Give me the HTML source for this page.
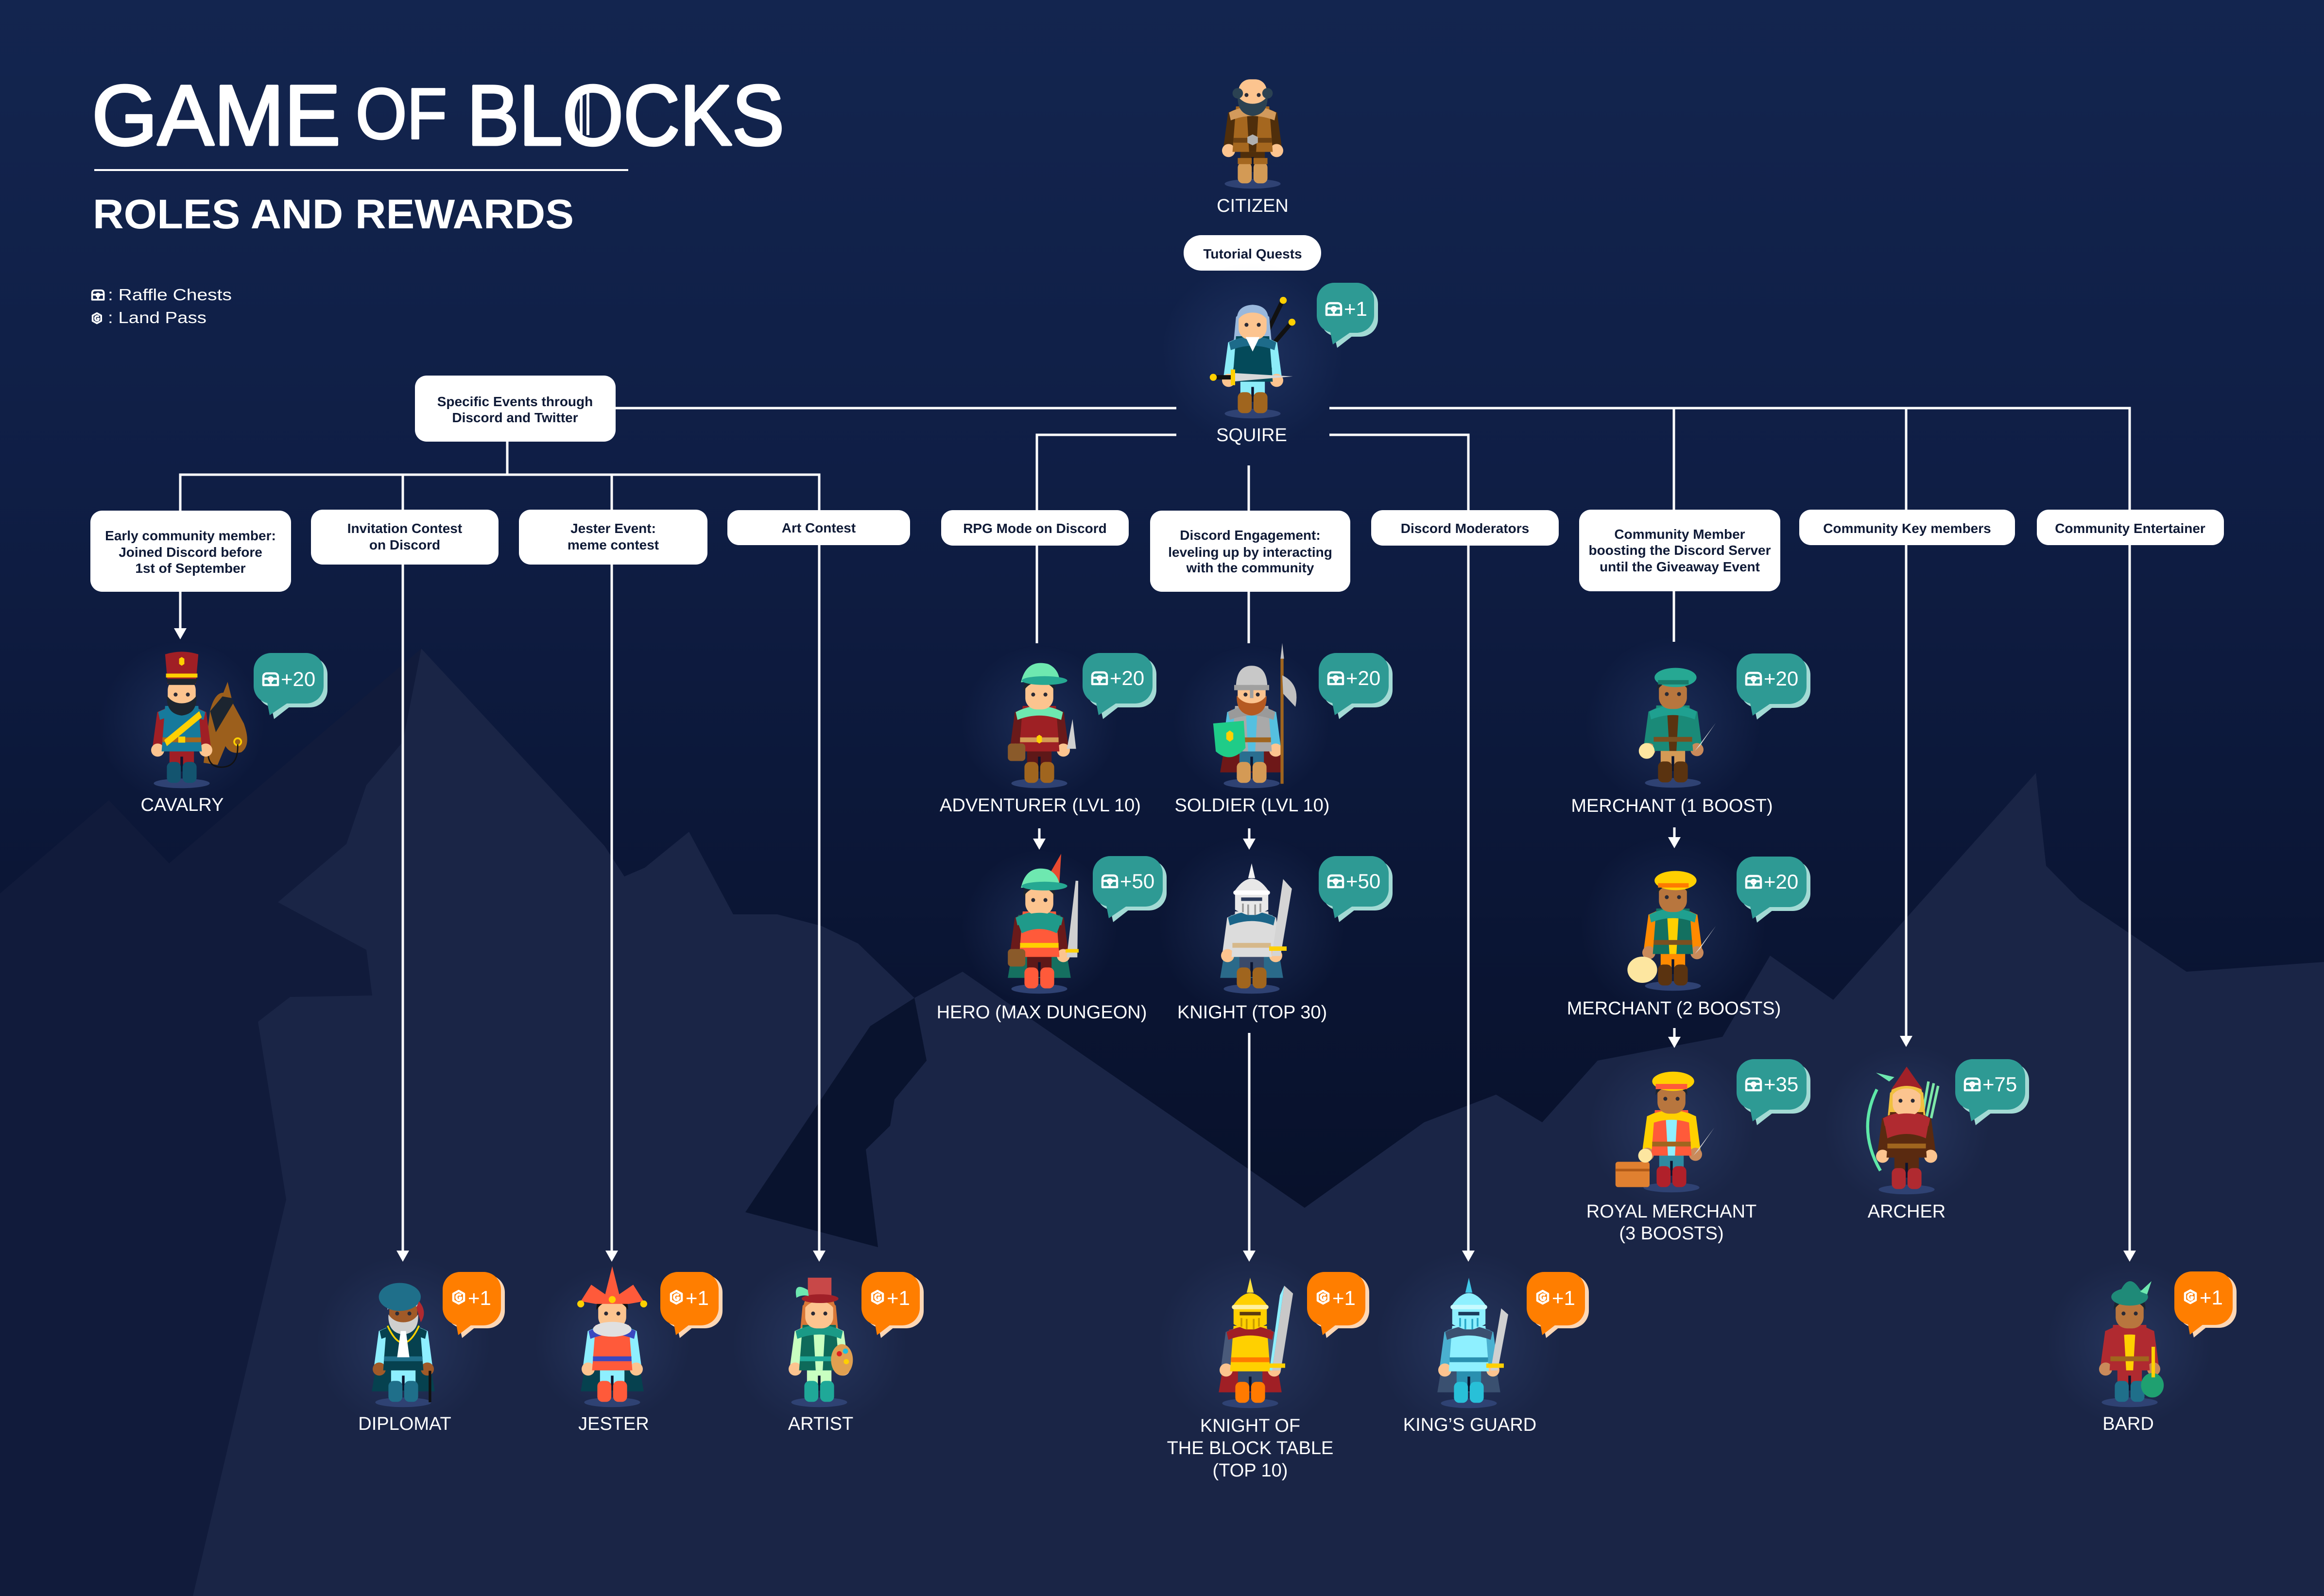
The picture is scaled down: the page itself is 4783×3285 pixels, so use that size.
<!DOCTYPE html>
<html><head><meta charset="utf-8">
<style>
html,body{margin:0;padding:0;background:#0f1e45;}
svg{display:block;}
text{font-family:"Liberation Sans",Arial,sans-serif;}
.nb{font-weight:bold;font-size:28px;fill:#0f1a36;text-anchor:middle;}
.lb{font-size:38px;fill:#fff;text-anchor:middle;}
.bt{font-size:42px;fill:#fff;}
.ln{stroke:#fff;stroke-width:5;fill:none;}
</style></head><body>
<svg width="4783" height="3285" viewBox="0 0 4783 3285" xmlns="http://www.w3.org/2000/svg">
<defs>
<linearGradient id="bg" x1="0" y1="0" x2="0" y2="1">
<stop offset="0" stop-color="#13254f"/>
<stop offset="0.3" stop-color="#0f1e45"/>
<stop offset="0.55" stop-color="#0b1636"/>
<stop offset="0.75" stop-color="#08112b"/>
<stop offset="1" stop-color="#070e25"/>
</linearGradient>
<radialGradient id="gl"><stop offset="0" stop-color="#5070b0" stop-opacity=".22"/><stop offset="1" stop-color="#5070b0" stop-opacity="0"/></radialGradient>
<symbol id="fig" viewBox="0 0 200 300">
<ellipse cx="100" cy="287" rx="64" ry="11" fill="#2f4273"/>
<path d="M52 118 L148 118 L172 262 L28 262Z" style="fill:var(--cape,none)"/>
<path d="M62 66 Q100 30 138 66 L146 150 L54 150Z" style="fill:var(--lhair,none)"/>
<rect x="72" y="198" width="56" height="56" style="fill:var(--legs)"/>
<rect x="97" y="226" width="6" height="34" fill="#0b1430"/>
<rect x="66" y="238" width="32" height="48" rx="12" style="fill:var(--boots)"/>
<rect x="102" y="238" width="32" height="48" rx="12" style="fill:var(--boots)"/>
<path d="M62 116 L44 124 L33 206 L57 208 L70 146Z" style="fill:var(--arms)"/>
<path d="M138 116 L156 124 L167 206 L143 208 L130 146Z" style="fill:var(--arms)"/>
<circle cx="45" cy="211" r="15" style="fill:var(--hand,#fcc48f)"/>
<circle cx="155" cy="211" r="15" style="fill:var(--hand,#fcc48f)"/>
<path d="M62 110 L138 110 L146 214 L54 214Z" style="fill:var(--torso)"/>
<path d="M86 110 L114 110 L108 214 L92 214Z" style="fill:var(--inner,none)"/>
<path d="M46 124 Q100 96 154 124 L150 142 Q100 122 50 142Z" style="fill:var(--shoulder,none)"/>
<rect x="56" y="182" width="88" height="11" style="fill:var(--belt)"/>
<rect x="68" y="48" width="64" height="70" rx="26" style="fill:var(--skin)"/>
<circle cx="86" cy="84" r="4.5" fill="#2a2a35"/>
<circle cx="114" cy="84" r="4.5" fill="#2a2a35"/>
<path d="M66 86 Q64 128 100 132 Q136 128 134 86 Q122 104 100 104 Q78 104 66 86Z" style="fill:var(--beard,none)"/>
<path d="M64 76 Q62 40 100 38 Q138 40 136 76 Q124 56 100 56 Q76 56 64 76Z" style="fill:var(--hair,none)"/>
</symbol>
<g id="tbd">
<rect x="8" y="8" width="144" height="104" rx="36" fill="#a3dad4"/>
<path d="M34 100 L88 100 L42 136Z" fill="#a3dad4"/>
<path d="M26 92 L80 96 L33 128Z" fill="#2e9a94"/>
<rect x="0" y="0" width="144" height="104" rx="36" fill="#2e9a94"/>
</g>
<g id="obd">
<rect x="8" y="6" width="120" height="110" rx="36" fill="#fdd7b5"/>
<path d="M32 100 L84 100 L40 136Z" fill="#fdd7b5"/>
<path d="M26 96 L76 96 L32 130Z" fill="#ff7e00"/>
<rect x="0" y="0" width="120" height="110" rx="36" fill="#ff7e00"/>
</g>
<g id="chest" fill="none" stroke="#fff" stroke-width="4.5" stroke-linejoin="round">
<path d="M2 26 L2 10 Q2 2 10 2 L24 2 Q32 2 32 10 L32 26Z"/>
<line x1="2" y1="13" x2="32" y2="13"/>
<circle cx="17" cy="14" r="4"/>
<line x1="17" y1="18" x2="17" y2="26"/>
</g>
<g id="pass" fill="none" stroke="#fff" stroke-width="4.5" stroke-linejoin="round">
<path d="M13 2 L24 8 L24 22 L13 28 L2 22 L2 8Z"/>
<path d="M18 11 Q13 7 9 12 Q7 18 12 21 Q17 22 18 16 L13 16"/>
</g>
</defs>

<!-- background -->
<rect x="0" y="0" width="4783" height="3285" fill="url(#bg)"/>
<path d="M0 1839 L224 1647 L348 1777 L867 1335 L867 3285 L0 3285Z" fill="#111b3b"/>
<path d="M397 3285 L589 2469 L531 2103 L597 2052 L766 2049 L754 1955 L572 1857 L713 1737 L754 1616 L829 1527 L867 1335 L1244 1741 L1285 1804 L1327 1786 L1418 1712 L1509 1882 L1600 1882 L1691 1906 L1766 1942 L1882 2054 L1981 2000 L2685 2486 L2931 2310 L3079 2253 L3174 2310 L3288 2183 L3545 2134 L3643 1967 L3773 2058 L4190 1591 L4211 1782 L4280 1852 L4500 2000 L4783 1980 L4783 3285Z" fill="#1a2546"/>
<path d="M1882 2054 L1791 2112 L1534 2495 L1807 2567 L1782 2366 L1832 2317 L1841 2263 L1907 2183Z" fill="#09132e"/>

<!-- title -->
<g fill="#fff" stroke="#fff" stroke-linejoin="round">
<text x="189" y="298" font-size="176" stroke-width="5" textLength="512" lengthAdjust="spacingAndGlyphs">GAME</text>
<text x="732" y="285" font-size="148" stroke-width="4" textLength="188" lengthAdjust="spacingAndGlyphs">OF</text>
<text x="961" y="298" font-size="176" stroke-width="5" textLength="653" lengthAdjust="spacingAndGlyphs">BLOCKS</text>
</g>
<rect x="1193" y="192" width="6" height="86" fill="#fff"/>
<rect x="1207" y="192" width="6" height="86" fill="#fff"/>
<rect x="194" y="348" width="1099" height="4" fill="#fff"/>
<text x="191" y="470" font-size="85" font-weight="bold" fill="#fff" textLength="990" lengthAdjust="spacingAndGlyphs">ROLES AND REWARDS</text>
<g transform="translate(188 596) scale(.8)"><use href="#chest"/></g>
<text x="222" y="618" font-size="33" fill="#fff" textLength="255" lengthAdjust="spacingAndGlyphs">: Raffle Chests</text>
<g transform="translate(189 643) scale(.8)"><use href="#pass"/></g>
<text x="222" y="665" font-size="33" fill="#fff" textLength="203" lengthAdjust="spacingAndGlyphs">: Land Pass</text>

<!-- connectors -->
<g class="ln">
<path d="M1267 840 H2421"/>
<path d="M2736 840 H4383 V1049"/>
<path d="M3445 840 V1049"/>
<path d="M3923 840 V1049"/>
<path d="M2421 895 H2134 V1050"/>
<path d="M2736 895 H3022 V1050"/>
<path d="M2570 958 V1051"/>
<path d="M1044 909 V977"/>
<path d="M371 1051 V977 H1686 V1050"/>
<path d="M829 977 V1049"/>
<path d="M1259 977 V1049"/>
<path d="M371 1218 V1296"/>
<path d="M829 1162 V2577"/>
<path d="M1259 1162 V2577"/>
<path d="M1686 1122 V2577"/>
<path d="M2134 1123 V1324"/>
<path d="M2570 1218 V1324"/>
<path d="M3022 1123 V2577"/>
<path d="M3445 1217 V1321"/>
<path d="M3923 1122 V2135"/>
<path d="M4383 1122 V2577"/>
<path d="M2139 1705 V1730"/>
<path d="M2571 1705 V1730"/>
<path d="M3446 1703 V1727"/>
<path d="M3446 2116 V2138"/>
<path d="M2571 2126 V2577"/>
</g>
<g fill="#fff">
<path d="M358 1293 L384 1293 L371 1316Z"/>
<path d="M816 2574 L842 2574 L829 2597Z"/>
<path d="M1246 2574 L1272 2574 L1259 2597Z"/>
<path d="M1673 2574 L1699 2574 L1686 2597Z"/>
<path d="M3009 2574 L3035 2574 L3022 2597Z"/>
<path d="M2558 2574 L2584 2574 L2571 2597Z"/>
<path d="M4370 2574 L4396 2574 L4383 2597Z"/>
<path d="M3910 2132 L3936 2132 L3923 2155Z"/>
<path d="M2126 1726 L2152 1726 L2139 1749Z"/>
<path d="M2558 1726 L2584 1726 L2571 1749Z"/>
<path d="M3433 1723 L3459 1723 L3446 1746Z"/>
<path d="M3433 2134 L3459 2134 L3446 2157Z"/>
</g>

<!-- node boxes -->
<g fill="#fff">
<rect x="2436" y="484" width="283" height="73" rx="36"/>
<rect x="854" y="773" width="413" height="136" rx="24"/>
<rect x="186" y="1051" width="413" height="167" rx="24"/>
<rect x="640" y="1049" width="386" height="113" rx="24"/>
<rect x="1068" y="1049" width="388" height="113" rx="24"/>
<rect x="1497" y="1050" width="376" height="72" rx="24"/>
<rect x="1937" y="1050" width="386" height="73" rx="24"/>
<rect x="2367" y="1051" width="412" height="167" rx="24"/>
<rect x="2822" y="1050" width="386" height="73" rx="24"/>
<rect x="3250" y="1049" width="414" height="168" rx="24"/>
<rect x="3703" y="1049" width="444" height="73" rx="24"/>
<rect x="4192" y="1049" width="385" height="73" rx="24"/>
</g>
<text class="nb" x="2578" y="532">Tutorial Quests</text>
<text class="nb" x="1060" y="836">Specific Events through</text>
<text class="nb" x="1060" y="869">Discord and Twitter</text>
<text class="nb" x="392" y="1112">Early community member:</text>
<text class="nb" x="392" y="1146">Joined Discord before</text>
<text class="nb" x="392" y="1179">1st of September</text>
<text class="nb" x="833" y="1097">Invitation Contest</text>
<text class="nb" x="833" y="1131">on Discord</text>
<text class="nb" x="1262" y="1097">Jester Event:</text>
<text class="nb" x="1262" y="1131">meme contest</text>
<text class="nb" x="1685" y="1096">Art Contest</text>
<text class="nb" x="2130" y="1097">RPG Mode on Discord</text>
<text class="nb" x="2573" y="1111">Discord Engagement:</text>
<text class="nb" x="2573" y="1146">leveling up by interacting</text>
<text class="nb" x="2573" y="1178">with the community</text>
<text class="nb" x="3015" y="1097">Discord Moderators</text>
<text class="nb" x="3457" y="1109">Community Member</text>
<text class="nb" x="3457" y="1142">boosting the Discord Server</text>
<text class="nb" x="3457" y="1176">until the Giveaway Event</text>
<text class="nb" x="3925" y="1097">Community Key members</text>
<text class="nb" x="4384" y="1097">Community Entertainer</text>

<!-- glows -->
<g fill="url(#gl)">
<circle cx="2578" cy="730" r="190"/>
<circle cx="374" cy="1490" r="170"/>
<circle cx="2139" cy="1490" r="160"/>
<circle cx="2576" cy="1490" r="160"/>
<circle cx="2139" cy="1910" r="160"/>
<circle cx="2576" cy="1910" r="190"/>
<circle cx="3443" cy="1490" r="180"/>
<circle cx="3443" cy="1910" r="190"/>
<circle cx="3440" cy="2320" r="170"/>
<circle cx="3924" cy="2320" r="170"/>
<circle cx="830" cy="2765" r="180"/>
<circle cx="1260" cy="2765" r="160"/>
<circle cx="1686" cy="2765" r="180"/>
<circle cx="2573" cy="2765" r="190"/>
<circle cx="3023" cy="2765" r="190"/>
<circle cx="4383" cy="2765" r="170"/>
</g>

<!-- CITIZEN -->
<g transform="translate(2488 120) scale(.9)">
<use href="#fig" width="200" height="300" style="--skin:#fcc48f;--torso:#a5671f;--arms:#4f2e0b;--legs:#4f2e0b;--boots:#d39a55;--belt:#6d4112;--beard:#2b4252;--shoulder:#d29a5c;--inner:#4f2e0b"/>
<circle cx="66" cy="80" r="12" fill="#2b4252"/><circle cx="134" cy="80" r="12" fill="#2b4252"/>
<path d="M88 180 L100 174 L112 180 L112 193 L100 199 L88 193Z" fill="#b0b0b0"/>
<rect x="66" y="228" width="32" height="14" fill="#a5671f"/><rect x="102" y="228" width="32" height="14" fill="#a5671f"/>
</g>
<text class="lb" x="2578" y="436">CITIZEN</text>

<!-- SQUIRE -->
<g transform="translate(2488 593) scale(.9)">
<path d="M118 132 L168 30" stroke="#111" stroke-width="10"/><circle cx="170" cy="28" r="8" fill="#ffd000"/>
<path d="M128 150 L188 80" stroke="#111" stroke-width="10"/><circle cx="190" cy="78" r="8" fill="#ffd000"/>
<use href="#fig" width="200" height="300" style="--skin:#fcc48f;--torso:#044a5a;--arms:#8cecf8;--legs:#8cecf8;--boots:#a0651e;--belt:#044a5a;--hair:#9ab8dc;--lhair:#9ab8dc;--shoulder:#1d6b8a"/>
<path d="M84 112 L116 112 L100 145Z" fill="#fff"/>
<path d="M52 194 L192 202 L52 214Z" fill="#d8d8d8"/>
<rect x="50" y="186" width="10" height="36" fill="#ffd000"/>
<rect x="12" y="199" width="38" height="10" fill="#111"/><circle cx="10" cy="204" r="8" fill="#ffd000"/>
</g>
<text class="lb" x="2576" y="908">SQUIRE</text>
<g transform="translate(2710 582)">
<rect x="8" y="8" width="118" height="103" rx="36" fill="#a3dad4"/>
<path d="M34 100 L86 100 L42 134Z" fill="#a3dad4"/>
<path d="M26 92 L78 96 L33 127Z" fill="#2e9a94"/>
<rect x="0" y="0" width="118" height="103" rx="36" fill="#2e9a94"/>
<use href="#chest" x="18" y="40"/>
<text class="bt" x="56" y="68">+1</text>
</g>

<!-- CAVALRY -->
<g transform="translate(284 1354) scale(.9)">
<path d="M150 240 L165 120 Q178 70 205 82 L242 150 Q260 200 236 216 Q212 222 200 202 L182 245Z" fill="#9c5f1c"/>
<path d="M165 122 L200 80 L220 100 L178 170Z" fill="#1c2530"/>
<path d="M192 88 L205 55 L214 92Z" fill="#9c5f1c"/>
<circle cx="228" cy="192" r="8" fill="none" stroke="#ffd000" stroke-width="4"/>
<path d="M228 198 Q230 250 190 250 Q160 250 160 215" fill="none" stroke="#111" stroke-width="3"/>
<use href="#fig" width="200" height="300" style="--skin:#fcc48f;--torso:#167a9c;--arms:#a01f25;--legs:#a01f25;--boots:#13546f;--belt:#a6661f;--beard:#1c2530;--shoulder:#167a9c"/>
<path d="M68 60 L62 -8 Q100 -20 138 -8 L132 60Z" fill="#a01f25"/>
<rect x="64" y="36" width="72" height="9" fill="#ffd000"/>
<path d="M64 48 L136 48 L130 62 L70 62Z" fill="#1c2530"/>
<path d="M94 2 L100 -2 L106 2 L106 14 L100 18 L94 14Z" fill="#ffd000"/>
<path d="M60 188 L140 122 L146 136 L66 202Z" fill="#ffd000"/>
<rect x="92" y="180" width="16" height="14" fill="#ffd000"/>
</g>
<text class="lb" x="375" y="1669">CAVALRY</text>
<use href="#tbd" x="522" y="1344"/><use href="#chest" x="540" y="1384"/><text class="bt" x="578" y="1412">+20</text>

<!-- ADVENTURER -->
<g transform="translate(2049 1354) scale(.9)">
<use href="#fig" width="200" height="300" style="--skin:#fcc48f;--torso:#9e2024;--arms:#6a1a1a;--legs:#5e1818;--boots:#a0651e;--belt:#d49a55;--hair:#1c2530;--shoulder:#6ee8b0"/>
<path d="M58 56 Q70 2 120 14 Q142 24 146 48Z" fill="#6ee8b0"/>
<ellipse cx="112" cy="52" rx="52" ry="10" fill="#26a892"/>
<path d="M163 208 L176 140 L184 208Z" fill="#d0d0d0"/>
<rect x="28" y="196" width="40" height="40" rx="8" fill="#8a5a2a"/>
<path d="M94 180 L100 176 L106 180 L106 192 L100 196 L94 192Z" fill="#ffd000"/>
</g>
<text class="lb" x="2141" y="1670">ADVENTURER (LVL 10)</text>
<use href="#tbd" x="2228" y="1344"/><use href="#chest" x="2246" y="1382"/><text class="bt" x="2284" y="1410">+20</text>

<!-- SOLDIER -->
<g transform="translate(2486 1354) scale(.9)">
<use href="#fig" width="200" height="300" style="--skin:#fcc48f;--torso:#a9a9a9;--arms:#55c0e0;--legs:#2a6e90;--boots:#d49a55;--belt:#a0651e;--beard:#b55a22;--cape:#6e1818;--shoulder:#9a9a9a;--inner:#55c0e0"/>
<path d="M64 70 Q64 18 100 18 Q136 18 136 70Z" fill="#c8c8c8"/>
<rect x="60" y="62" width="80" height="12" fill="#a0a0a0"/>
<rect x="96" y="62" width="8" height="30" fill="#a0a0a0"/>
<path d="M12 150 L82 144 L86 206 Q52 244 18 214Z" fill="#1fcc88"/>
<path d="M42 172 L50 166 L58 172 L58 186 L50 192 L42 186Z" fill="#ffd000"/>
<rect x="166" y="0" width="7" height="288" fill="#a0651e"/>
<path d="M170 40 Q212 60 200 112 L172 82Z" fill="#c0c0c0"/>
<path d="M166 2 L170 -34 L174 2Z" fill="#c0c0c0"/>
</g>
<text class="lb" x="2577" y="1670">SOLDIER (LVL 10)</text>
<use href="#tbd" x="2714" y="1344"/><use href="#chest" x="2732" y="1382"/><text class="bt" x="2770" y="1410">+20</text>

<!-- HERO -->
<g transform="translate(2049 1777) scale(.9)">
<use href="#fig" width="200" height="300" style="--skin:#fcc48f;--torso:#ff5a3a;--arms:#6a1a1a;--legs:#5e1818;--boots:#ff5a3a;--belt:#ffd000;--hair:#1c2530;--shoulder:#1f9a8a;--cape:#157060"/>
<path d="M48 128 Q100 98 152 128 L140 160 Q100 140 60 160Z" fill="#1f9a8a"/>
<path d="M112 44 L150 -22 L146 44Z" fill="#e84a30"/>
<path d="M58 56 Q70 2 120 14 Q142 24 146 48Z" fill="#6ee8b0"/>
<ellipse cx="112" cy="52" rx="52" ry="10" fill="#26a892"/>
<path d="M166 212 L186 40 L184 212Z" fill="#d0d0d0" stroke="#d0d0d0" stroke-width="6"/>
<rect x="160" y="196" width="30" height="8" fill="#ffd000"/>
<rect x="28" y="196" width="40" height="40" rx="8" fill="#8a5a2a"/>
</g>
<text class="lb" x="2144" y="2096">HERO (MAX DUNGEON)</text>
<use href="#tbd" x="2249" y="1762"/><use href="#chest" x="2267" y="1800"/><text class="bt" x="2305" y="1828">+50</text>

<!-- KNIGHT -->
<g transform="translate(2486 1777) scale(.9)">
<use href="#fig" width="200" height="300" style="--skin:#e8e8e8;--torso:#dcdcdc;--arms:#dcdcdc;--legs:#3a4a6a;--boots:#a0651e;--belt:#d6b88a;--shoulder:#1a6488;--cape:#2a6a8a"/>
<path d="M62 106 L62 62 Q100 8 138 62 L138 106 Q100 128 62 106Z" fill="#e8e8e8"/>
<rect x="58" y="62" width="84" height="10" rx="5" fill="#fff"/>
<rect x="76" y="78" width="48" height="8" fill="#2a3a5a"/>
<path d="M80 92 V112 M92 94 V118 M108 94 V118 M120 92 V112" stroke="#999" stroke-width="4"/>
<path d="M92 34 L100 0 L108 34Z" fill="#f4f4f4"/>
<path d="M146 212 L172 36 L192 58 L166 212Z" fill="#d4d4d4"/>
<rect x="140" y="190" width="40" height="10" fill="#ffd000"/>
</g>
<text class="lb" x="2577" y="2096">KNIGHT (TOP 30)</text>
<use href="#tbd" x="2714" y="1762"/><use href="#chest" x="2732" y="1800"/><text class="bt" x="2770" y="1828">+50</text>

<!-- MERCHANT 1 -->
<g transform="translate(3353 1353) scale(.9)">
<use href="#fig" width="200" height="300" style="--skin:#b8763e;--hand:#c98a5a;--torso:#1a8a78;--inner:#5a3310;--arms:#1a8a78;--legs:#d49a55;--boots:#5a3310;--belt:#7a5020;--hair:#1c2530;--shoulder:#1fa090"/>
<ellipse cx="106" cy="46" rx="48" ry="22" fill="#26a893"/>
<rect x="66" y="52" width="70" height="10" fill="#177a6a"/>
<circle cx="40" cy="214" r="18" fill="#fde6a0"/>
<path d="M150 214 L198 150 L162 202Z" fill="#d8d8d8"/>
</g>
<text class="lb" x="3441" y="1671">MERCHANT (1 BOOST)</text>
<use href="#tbd" x="3574" y="1345"/><use href="#chest" x="3592" y="1383"/><text class="bt" x="3630" y="1411">+20</text>

<!-- MERCHANT 2 -->
<g transform="translate(3353 1771) scale(.9)">
<use href="#fig" width="200" height="300" style="--skin:#b8763e;--hand:#c98a5a;--torso:#137060;--inner:#ffd000;--arms:#ff8a00;--legs:#ff8a00;--boots:#5a3310;--belt:#7a5020;--hair:#1c2530;--shoulder:#1fa090"/>
<ellipse cx="106" cy="46" rx="48" ry="22" fill="#ffd000"/>
<rect x="66" y="52" width="70" height="10" fill="#ff7a00"/>
<ellipse cx="30" cy="250" rx="34" ry="30" fill="#fde6a0"/>
<path d="M150 214 L198 150 L162 202Z" fill="#d8d8d8"/>
</g>
<text class="lb" x="3445" y="2088">MERCHANT (2 BOOSTS)</text>
<use href="#tbd" x="3574" y="1763"/><use href="#chest" x="3592" y="1801"/><text class="bt" x="3630" y="1829">+20</text>

<!-- ROYAL MERCHANT -->
<g transform="translate(3350 2186) scale(.9)">
<use href="#fig" width="200" height="300" style="--skin:#b8763e;--hand:#c98a5a;--torso:#ff5a3a;--inner:#8ef0ff;--arms:#ffd000;--legs:#2f8aa0;--boots:#b0202a;--belt:#a0651e;--hair:#1c2530;--shoulder:#ffd000"/>
<ellipse cx="104" cy="44" rx="48" ry="22" fill="#ffd000"/>
<rect x="64" y="50" width="72" height="12" fill="#ff5a3a"/>
<rect x="-28" y="228" width="78" height="58" rx="6" fill="#e08030"/>
<rect x="-28" y="244" width="78" height="6" fill="#b05a18"/>
<circle cx="40" cy="214" r="16" fill="#fde6a0"/>
<path d="M150 214 L198 150 L162 202Z" fill="#d8d8d8"/>
</g>
<text class="lb" x="3440" y="2506">ROYAL MERCHANT</text>
<text class="lb" x="3440" y="2551">(3 BOOSTS)</text>
<use href="#tbd" x="3574" y="2180"/><use href="#chest" x="3592" y="2218"/><text class="bt" x="3630" y="2246">+35</text>

<!-- ARCHER -->
<g transform="translate(3834 2190) scale(.9)">
<path d="M136 120 L150 40 M146 120 L162 44 M156 124 L172 50" stroke="#7ee8a8" stroke-width="6"/>
<path d="M32 58 Q-14 150 40 244" fill="none" stroke="#5ee8a8" stroke-width="7"/>
<use href="#fig" width="200" height="300" style="--skin:#fcc48f;--torso:#5a2a10;--arms:#5a2a10;--legs:#5a2a10;--boots:#b02a30;--belt:#a0651e;--hair:#f0c040;--lhair:#f0c040;--shoulder:#b02a30"/>
<path d="M48 126 Q100 100 152 126 L144 170 Q100 150 56 170Z" fill="#b02a30"/>
<path d="M64 60 L100 6 L138 60 Q100 40 64 60Z" fill="#a02028"/>
<path d="M60 40 L30 20 L72 30Z" fill="#6ee8b0"/>
</g>
<text class="lb" x="3924" y="2506">ARCHER</text>
<use href="#tbd" x="4024" y="2180"/><use href="#chest" x="4042" y="2218"/><text class="bt" x="4080" y="2246">+75</text>

<!-- DIPLOMAT -->
<g transform="translate(740 2628) scale(.9)">
<use href="#fig" width="200" height="300" style="--skin:#a05a28;--hand:#a05a28;--torso:#06414f;--arms:#8eefff;--legs:#8eefff;--boots:#1f6f8a;--belt:#1f6f8a;--beard:#cfcfcf;--hair:#cfcfcf;--cape:#06414f;--shoulder:#06414f"/>
<ellipse cx="92" cy="46" rx="48" ry="32" fill="#1f6f8a"/>
<path d="M136 56 Q156 80 140 104 L130 70Z" fill="#b02a30"/>
<path d="M64 112 Q100 190 136 112" fill="none" stroke="#ffd000" stroke-width="4"/>
<path d="M94 124 L106 124 L114 184 L86 184Z" fill="#fff"/>
<rect x="158" y="215" width="6" height="72" fill="#111"/>
</g>
<text class="lb" x="833" y="2943">DIPLOMAT</text>
<use href="#obd" x="911" y="2618"/><use href="#pass" x="931" y="2655"/><text class="bt" x="963" y="2686">+1</text>

<!-- JESTER -->
<g transform="translate(1170 2628) scale(.9)">
<use href="#fig" width="200" height="300" style="--skin:#fcc48f;--torso:#ff5a3a;--arms:#8eefff;--legs:#8eefff;--boots:#ff5a3a;--belt:#3a48c0;--hair:#111;--cape:#06414f;--shoulder:#3a48c0"/>
<path d="M62 62 L28 56 L52 18 L84 40 L100 -24 L116 40 L148 18 L172 56 L138 62Z" fill="#ff5a3a"/>
<circle cx="28" cy="62" r="8" fill="#ffd000"/><circle cx="172" cy="62" r="8" fill="#ffd000"/><circle cx="100" cy="52" r="8" fill="#ffd000"/>
<ellipse cx="100" cy="120" rx="44" ry="17" fill="#e0e0e0"/>
</g>
<text class="lb" x="1263" y="2943">JESTER</text>
<use href="#obd" x="1359" y="2618"/><use href="#pass" x="1379" y="2655"/><text class="bt" x="1411" y="2686">+1</text>

<!-- ARTIST -->
<g transform="translate(1596 2628) scale(.9)">
<use href="#fig" width="200" height="300" style="--skin:#fcc48f;--torso:#0e6a5a;--inner:#c8ffc0;--arms:#c8ffc0;--legs:#c8ffc0;--boots:#1fa898;--belt:#1fa898;--hair:#d87838;--lhair:#d87838;--shoulder:#1a9a86"/>
<rect x="74" y="2" width="54" height="46" fill="#c84848"/>
<ellipse cx="102" cy="50" rx="42" ry="10" fill="#a02028"/>
<path d="M74 30 Q40 10 48 48 Q60 40 76 44Z" fill="#6ee8b0"/>
<ellipse cx="152" cy="190" rx="25" ry="36" fill="#e0a050"/>
<circle cx="146" cy="176" r="6" fill="#e02020"/><circle cx="160" cy="170" r="6" fill="#20c0e0"/><circle cx="162" cy="194" r="6" fill="#ffd000"/>
</g>
<text class="lb" x="1689" y="2943">ARTIST</text>
<use href="#obd" x="1773" y="2618"/><use href="#pass" x="1793" y="2655"/><text class="bt" x="1825" y="2686">+1</text>

<!-- KNIGHT OF THE BLOCK TABLE -->
<g transform="translate(2483 2630) scale(.9)">
<use href="#fig" width="200" height="300" style="--skin:#ffd000;--torso:#ffd000;--arms:#4a5a7a;--legs:#33486a;--boots:#ff7a00;--belt:#ff7a00;--shoulder:#a01f25;--cape:#a01f25"/>
<path d="M62 106 L62 62 Q100 8 138 62 L138 106 Q100 128 62 106Z" fill="#ffd000"/>
<rect x="58" y="62" width="84" height="10" rx="5" fill="#fff0a0"/>
<rect x="76" y="78" width="48" height="8" fill="#5a3a10"/>
<path d="M80 92 V112 M92 94 V118 M108 94 V118 M120 92 V112" stroke="#c89a00" stroke-width="4"/>
<path d="M92 34 L100 0 L108 34Z" fill="#ffe040"/>
<path d="M150 212 L178 18 L198 36 L170 212Z" fill="#c8c8c8"/>
<path d="M150 212 L178 18 L168 40 L144 212Z" fill="#8ef0ff"/>
<rect x="140" y="196" width="40" height="10" fill="#ffd000"/>
</g>
<text class="lb" x="2573" y="2947">KNIGHT OF</text>
<text class="lb" x="2573" y="2993">THE BLOCK TABLE</text>
<text class="lb" x="2573" y="3039">(TOP 10)</text>
<use href="#obd" x="2690" y="2618"/><use href="#pass" x="2710" y="2655"/><text class="bt" x="2742" y="2686">+1</text>

<!-- KING'S GUARD -->
<g transform="translate(2933 2630) scale(.9)">
<use href="#fig" width="200" height="300" style="--skin:#8ef0ff;--torso:#8ef0ff;--arms:#4ab0d0;--legs:#2a90b0;--boots:#28c0d8;--belt:#2a90b0;--shoulder:#3a5070;--cape:#3a5070"/>
<path d="M62 106 L62 62 Q100 8 138 62 L138 106 Q100 128 62 106Z" fill="#8ef0ff"/>
<rect x="58" y="62" width="84" height="10" rx="5" fill="#c8faff"/>
<rect x="76" y="78" width="48" height="8" fill="#1a3a5a"/>
<path d="M80 92 V112 M92 94 V118 M108 94 V118 M120 92 V112" stroke="#28a8c8" stroke-width="4"/>
<path d="M92 34 L100 0 L108 34Z" fill="#40c8e8"/>
<path d="M150 212 L174 70 L190 84 L166 212Z" fill="#d0d0d0"/>
<rect x="140" y="196" width="40" height="10" fill="#ffd000"/>
</g>
<text class="lb" x="3025" y="2945">KING’S GUARD</text>
<use href="#obd" x="3142" y="2618"/><use href="#pass" x="3162" y="2655"/><text class="bt" x="3194" y="2686">+1</text>

<!-- BARD -->
<g transform="translate(4293 2628) scale(.9)">
<use href="#fig" width="200" height="300" style="--skin:#b8763e;--hand:#c98a5a;--torso:#b02a30;--inner:#ffd000;--arms:#b02a30;--legs:#b02a30;--boots:#1f6f8a;--belt:#a0651e;--hair:#1c2530;--shoulder:#b02a30"/>
<ellipse cx="100" cy="46" rx="42" ry="20" fill="#1f8a78"/>
<path d="M80 30 Q100 -10 124 30Z" fill="#1f8a78"/>
<path d="M124 34 L150 10 L140 40Z" fill="#6ee8b0"/>
<ellipse cx="152" cy="248" rx="26" ry="28" fill="#1fa070"/>
<rect x="150" y="160" width="8" height="70" fill="#ffd000"/>
</g>
<text class="lb" x="4380" y="2943">BARD</text>
<use href="#obd" x="4475" y="2617"/><use href="#pass" x="4495" y="2654"/><text class="bt" x="4527" y="2685">+1</text>

</svg>
</body></html>
